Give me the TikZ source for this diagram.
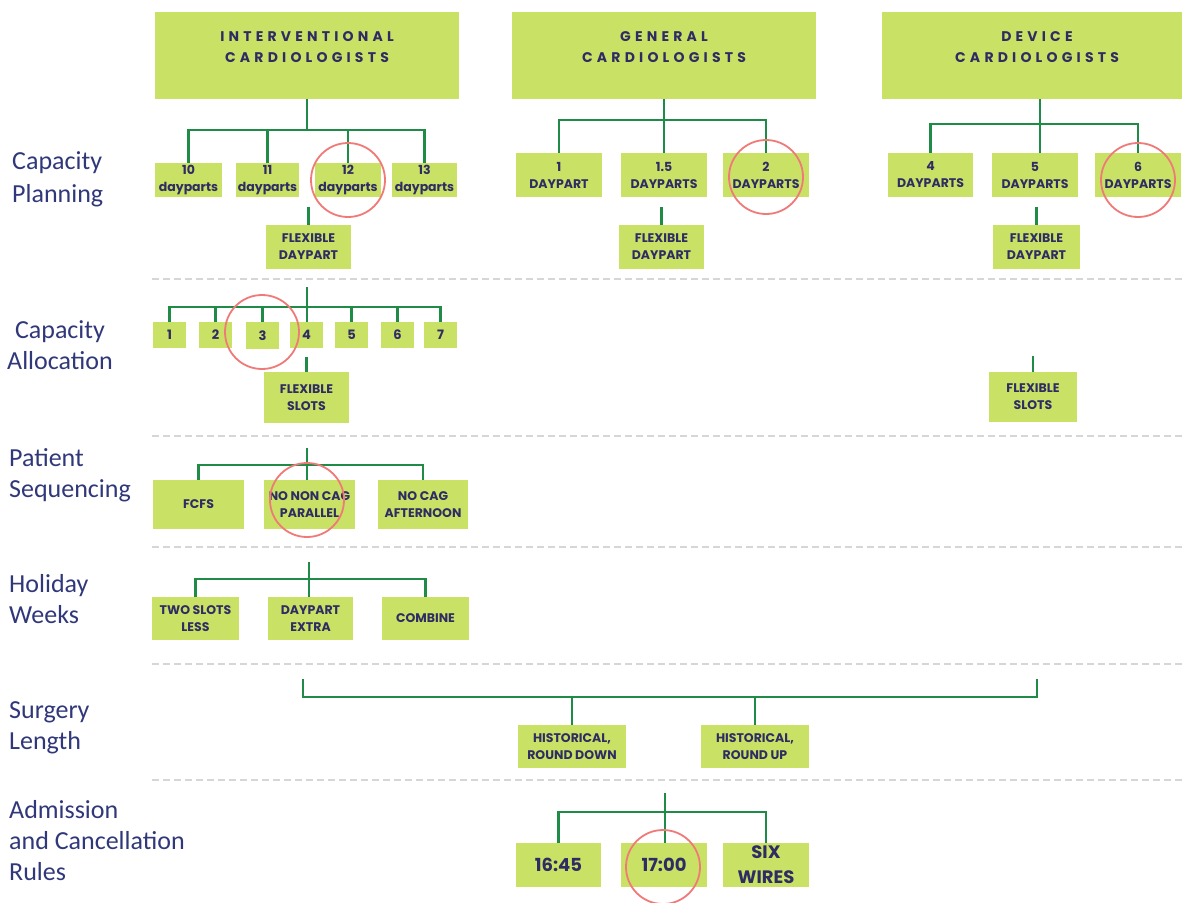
\documentclass[tikz,border=0pt]{standalone}
\usepackage{fontspec}
\setmainfont{Carlito}
\newfontfamily\boxfont{Poppins}
\definecolor{leaf}{HTML}{C9E265}
\definecolor{ink}{HTML}{2F2C63}
\definecolor{stem}{HTML}{1F8B47}
\definecolor{ringred}{HTML}{F07A78}
\definecolor{rulegray}{HTML}{D6D6D6}
\definecolor{side}{HTML}{30387A}
\begin{document}
\begin{tikzpicture}[x=1pt,y=-1pt,
  sz/.style 2 args={minimum width=#1pt, minimum height=#2pt},
  box/.style={fill=leaf, inner sep=0pt, text=ink, align=center,
    font={\boxfont\bfseries\fontsize{12.5}{17}\selectfont}},
  bigbox/.style={box, font={\boxfont\bfseries\fontsize{18}{25}\selectfont}},
  htext/.style={text=ink, align=center, yshift=8.5pt,
    font={\boxfont\bfseries\fontsize{14}{20.5}\selectfont\addfontfeature{LetterSpace=30}}},
  conn/.style={draw=stem, line width=2.4pt},
  ring/.style={draw=ringred, line width=1.8pt, circle, minimum size=74pt, inner sep=0pt},
  sep/.style={draw=rulegray, line width=2pt, dash pattern=on 7pt off 4pt},
  stage/.style={text=side, align=left, anchor=west, inner sep=0pt,
    font={\fontsize{26}{31}\selectfont}}]
\useasboundingbox (0,0) rectangle (1182,902);
\fill[white] (0,0) rectangle (1182,902);

% stage labels down the left side
\node[stage] (lcp) at (12,179) {Capacity\\[2pt]Planning};
\node[stage, align=center, anchor=center] (lca) at (60,345) {Capacity\\Allocation};
\node[stage] (lps) at (9,475) {Patient\\Sequencing};
\node[stage] (lhw) at (9,599) {Holiday\\Weeks};
\node[stage] (lsl) at (9,728) {Surgery\\Length};
\node[stage] (lac) at (9,841) {Admission\\and Cancellation\\Rules};

% dashed separators between the stages
\foreach \yy in {279,436,547,664,780}
  \draw[sep] (152,\yy) -- (1182,\yy);

% cardiologist groups
\node[box, sz={304}{87}, label={[htext]center:INTERVENTIONAL\\CARDIOLOGISTS}] (ih) at (307,55.5) {};
\node[box, sz={304}{87}, label={[htext]center:GENERAL\\CARDIOLOGISTS}] (gh) at (664,55.5) {};
\node[box, sz={302}{87}, label={[htext,xshift=4pt]center:DEVICE\\CARDIOLOGISTS}] (dh) at (1033,55.5) {};

% capacity planning: interventional
\node[box, sz={67}{34}] (i10) at (188.5,180) {10\\dayparts};
\node[box, sz={63}{34}] (i11) at (267.5,180) {11\\dayparts};
\node[box, sz={66}{34}] (i12) at (348,180) {12\\dayparts};
\node[box, sz={65}{34}] (i13) at (424.5,180) {13\\dayparts};
\node[box, sz={85}{44}] (ifd) at (308.5,247) {FLEXIBLE\\DAYPART};
\coordinate (ij) at (307,130);
\draw[conn] (ih.south) -- (ij);
\draw[conn] (i10.north) |- (ij) -| (i13.north);
\draw[conn] (i11.north) -- (i11.north |- ij);
\draw[conn] (i12.north) -- (i12.north |- ij);
\draw[conn] (ifd.north) -- ++(0,-18);

% capacity planning: general
\node[box, sz={86}{44}] (g1) at (559,175) {1\\DAYPART};
\node[box, sz={86}{44}] (g15) at (664,175) {1.5\\DAYPARTS};
\node[box, sz={86}{44}] (g2) at (766,175) {2\\DAYPARTS};
\node[box, sz={85}{44}] (gfd) at (661.5,247) {FLEXIBLE\\DAYPART};
\coordinate (gj) at (664,120);
\draw[conn] (gh.south) -- (g15.north);
\draw[conn] (g1.north) |- (gj) -| (g2.north);
\draw[conn] (gfd.north) -- ++(0,-18);

% capacity planning: device
\node[box, sz={85}{44}] (d4) at (930.5,175) {4\\DAYPARTS};
\node[box, sz={86}{44}] (d5) at (1035,175) {5\\DAYPARTS};
\node[box, sz={86}{44}] (d6) at (1138,175) {6\\DAYPARTS};
\node[box, sz={87}{44}] (dfd) at (1036.5,247) {FLEXIBLE\\DAYPART};
\coordinate (dj) at (1040,124);
\draw[conn] (dj |- dh.south) -- (dj |- d5.north);
\draw[conn] (d4.north) |- (dj) -| (d6.north);
\draw[conn] (dfd.north) -- ++(0,-18);

% capacity allocation
\begin{scope}[box/.append style={font={\boxfont\bfseries\fontsize{13}{16}\selectfont}}]
\node[box, sz={33}{26}] (a1) at (169.5,335) {1};
\node[box, sz={33}{26}] (a2) at (215.5,335) {2};
\node[box, sz={33}{27}] (a3) at (262.5,335.5) {3};
\node[box, sz={33}{26}] (a4) at (306.5,335) {4};
\node[box, sz={33}{26}] (a5) at (351.5,335) {5};
\node[box, sz={33}{26}] (a6) at (397.5,335) {6};
\node[box, sz={33}{26}] (a7) at (440.5,335) {7};
\end{scope}
\node[box, sz={85}{51}] (aflex) at (306.5,397.5) {FLEXIBLE\\SLOTS};
\node[box, sz={88}{50}] (dflex) at (1033,397) {FLEXIBLE\\SLOTS};
\coordinate (at) at (307,287);
\coordinate (aj) at (307,307);
\draw[conn] (at) -- (at |- a4.north);
\draw[conn] (a1.north) |- (aj) -| (a7.north);
\foreach \n in {a2,a3,a5,a6}
  \draw[conn] (\n.north) -- (\n.north |- aj);
\draw[conn] (aflex.north) -- ++(0,-15);
\draw[conn] (dflex.north) -- ++(0,-16);

% patient sequencing
\node[box, sz={91}{49}] (fcfs) at (198.5,504.5) {FCFS};
\node[box, sz={91}{49}] (nnc) at (309.5,504.5) {NO NON CAG\\PARALLEL};
\node[box, sz={90}{49}] (nca) at (423,504.5) {NO CAG\\AFTERNOON};
\coordinate (pt) at (307,448);
\coordinate (pj) at (307,465);
\draw[conn] (pt) -- (pt |- nnc.north);
\draw[conn] (fcfs.north) |- (pj) -| (nca.north);

% holiday weeks
\node[box, sz={87}{43}] (tsl) at (195.5,618.5) {TWO SLOTS\\LESS};
\node[box, sz={85}{43}] (dex) at (310.5,618.5) {DAYPART\\EXTRA};
\node[box, sz={87}{43}] (comb) at (425.5,618.5) {COMBINE};
\coordinate (ht) at (309,562);
\coordinate (hj) at (309,579);
\draw[conn] (ht) -- (ht |- dex.north);
\draw[conn] (tsl.north) |- (hj) -| (comb.north);

% surgery length
\node[box, sz={108}{43}] (hrd) at (572,746.5) {HISTORICAL,\\ROUND DOWN};
\node[box, sz={108}{43}] (hru) at (755,746.5) {HISTORICAL,\\ROUND UP};
\coordinate (sl) at (303,679);
\coordinate (sr) at (1037,679);
\coordinate (sb) at (572,697);
\draw[conn] (sl) |- (sb) -| (sr);
\draw[conn] (sb) -- (hrd.north);
\draw[conn] (hru.north) -- (hru.north |- sb);

% admission and cancellation rules
\node[bigbox, sz={85}{44}] (b1645) at (558.5,865) {16:45};
\node[bigbox, sz={86}{44}] (b1700) at (664,865) {17:00};
\node[bigbox, sz={86}{44}] (bsix) at (766,865) {SIX\\WIRES};
\coordinate (rt) at (665,793);
\coordinate (rj) at (665,812);
\draw[conn] (rt) -- (rt |- b1700.north);
\draw[conn] (b1645.north) |- (rj) -| (bsix.north);

% highlighted choices
\node[ring] (m1) at (348,180) {};
\node[ring] (m2) at (766,177) {};
\node[ring] (m3) at (1138,180) {};
\node[ring] (m4) at (262,332) {};
\node[ring] (m5) at (307,500) {};
\node[ring] (m6) at (663,867) {};
\end{tikzpicture}
\end{document}
